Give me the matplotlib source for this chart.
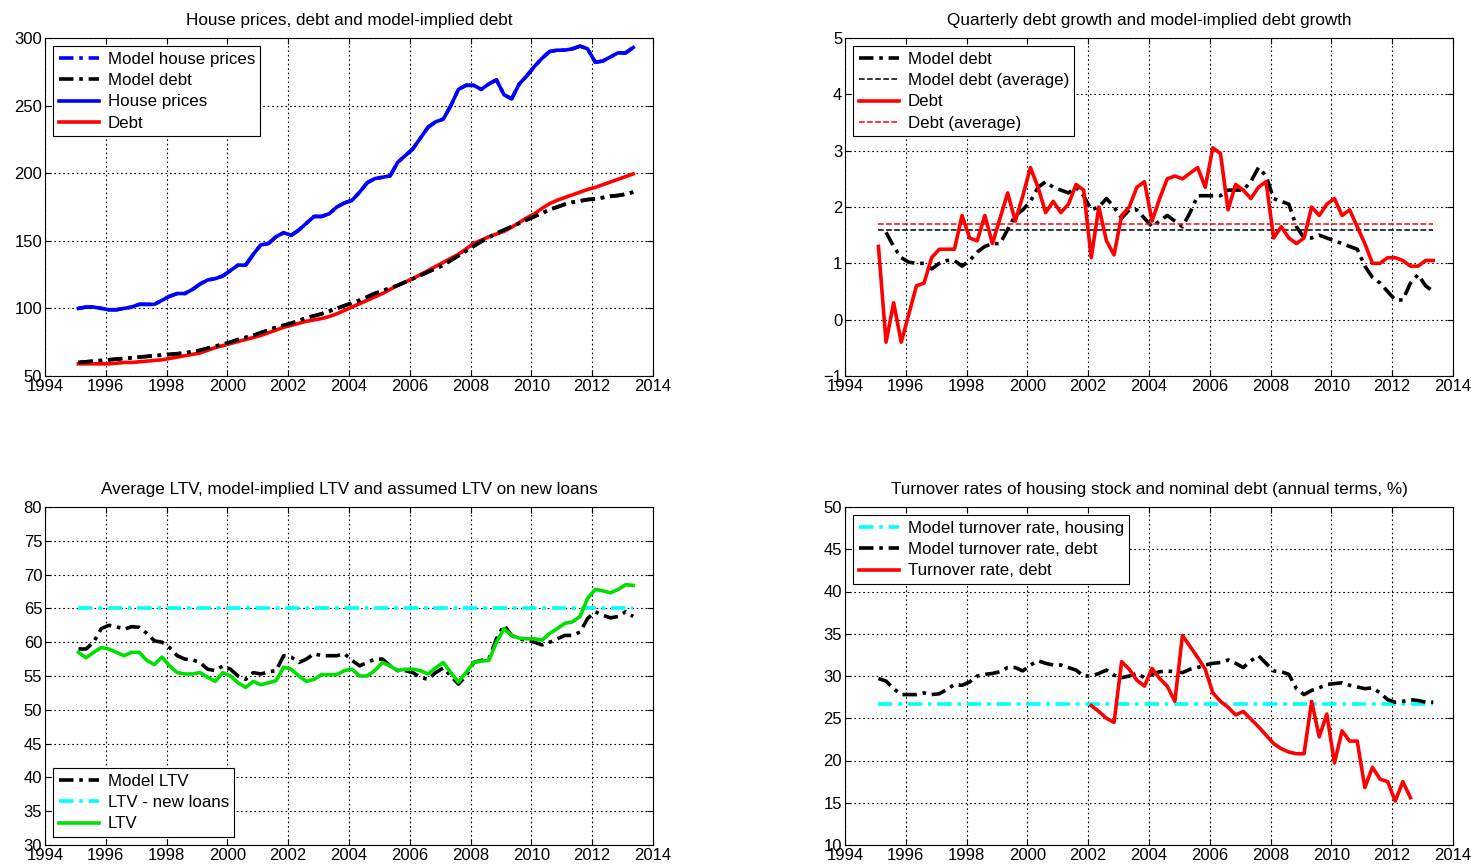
import numpy as np
import matplotlib.pyplot as plt

# quarterly sample, 1995Q1 .. 2013Q2
years = 1995.1 + 0.25 * np.arange(74)

house_prices = [100, 101, 101, 100, 99, 99, 100, 101, 103, 103, 103, 106,
                109, 111, 111, 114, 118, 121, 122, 124, 128, 132, 132, 140,
                147, 148, 153, 156, 154, 158, 163, 168, 168, 170, 175, 178,
                180, 186, 193, 196, 197, 198, 208, 213, 218, 226, 234, 238,
                240, 250, 262, 265, 265, 262, 266, 269, 258, 255, 266, 272,
                279, 285, 290, 291, 291, 292, 294, 292, 282, 283, 286, 289,
                289, 293]
model_house_prices = house_prices
debt = [59, 59, 59, 59, 59, 59.5, 60, 60, 60.5, 61, 61.5, 62,
        63, 64, 65, 66, 67, 69, 71, 72.5, 74, 75.5, 77, 78.5,
        80, 82, 84, 86, 87.5, 89, 90.5, 91.5, 92.5, 94, 96, 98.5,
        101, 103.5, 106, 108.5, 111, 114, 117, 119.5, 122, 125, 128, 131,
        134, 137, 140, 144, 148, 150.5, 153, 155, 157, 160, 163.5, 167,
        170, 174, 177.5, 180, 182, 184, 186, 188, 189.5, 191.5, 193.5, 195.5,
        197.5, 199.5]
model_debt = [60, 60.5, 61, 61.5, 62, 62.5, 63, 63.5, 64, 64.5, 65, 65.5,
              66, 66.5, 67, 68, 69, 70.5, 72, 73.5, 75, 77, 78.5, 80,
              82, 84, 86, 87.5, 89, 91, 93, 94.5, 96, 98, 100, 102,
              104, 106, 108.5, 111, 113, 115, 117, 119.5, 122, 124.5, 127, 129.5,
              132, 135.5, 139, 142.5, 146, 149.5, 152.5, 155.5, 158, 160.5, 163, 165.5,
              168, 170.5, 173, 175, 177, 178.5, 179.5, 180.5, 181, 182, 183, 183.5,
              184.5, 186]

debt_growth = [1.3, -0.4, 0.3, -0.4, 0.1, 0.6, 0.65, 1.1, 1.25, 1.25, 1.25, 1.85,
               1.45, 1.4, 1.85, 1.35, 1.8, 2.25, 1.75, 2.2, 2.7, 2.35, 1.9, 2.1,
               1.9, 2.05, 2.4, 2.3, 1.1, 2.0, 1.4, 1.15, 1.85, 2.0, 2.35, 2.45,
               1.75, 2.15, 2.5, 2.55, 2.5, 2.6, 2.7, 2.35, 3.05, 2.95, 1.95, 2.4,
               2.3, 2.15, 2.35, 2.45, 1.45, 1.65, 1.45, 1.35, 1.45, 2.0, 1.85, 2.05,
               2.15, 1.85, 1.95, 1.65, 1.35, 1.0, 1.0, 1.1, 1.1, 1.05, 0.95, 0.95,
               1.05, 1.05]
model_debt_growth = [np.nan, 1.55, 1.3, 1.1, 1.02, 1.0, 1.0, 0.9, 1.0, 1.05, 1.05, 0.95,
                     1.05, 1.2, 1.3, 1.35, 1.35, 1.6, 1.85, 1.95, 2.1, 2.35, 2.45, 2.35,
                     2.3, 2.25, 2.35, 2.2, 1.95, 2.0, 2.15, 2.0, 1.8, 1.95, 1.95, 1.8,
                     1.65, 1.75, 1.85, 1.75, 1.65, 1.9, 2.2, 2.2, 2.2, 2.2, 2.3, 2.3,
                     2.3, 2.45, 2.7, 2.55, 2.15, 2.1, 2.05, 1.65, 1.45, 1.45, 1.5, 1.45,
                     1.4, 1.35, 1.3, 1.25, 0.95, 0.75, 0.65, 0.5, 0.35, 0.35, 0.65, 0.8,
                     0.6, 0.5]
model_debt_growth_avg = 1.6
debt_growth_avg = 1.7

ltv = [58.5, 57.7, 58.5, 59.2, 59.0, 58.5, 58.0, 58.5, 58.5, 57.3, 56.7, 57.8,
       56.5, 55.5, 55.3, 55.3, 55.5, 54.8, 54.2, 55.5, 55.0, 54.0, 53.3, 54.2,
       53.7, 54.0, 54.3, 56.3, 56.0, 55.0, 54.2, 54.5, 55.2, 55.2, 55.2, 55.8,
       56.0, 55.0, 55.0, 55.8, 57.0, 56.5, 55.8, 56.0, 56.0, 55.8, 55.3, 56.2,
       57.0, 55.5, 54.1, 55.5, 57.0, 57.2, 57.3, 60.0, 62.0, 61.0, 60.6, 60.5,
       60.5, 60.3, 61.3, 62.0, 62.8, 63.0, 63.8, 66.5, 67.8, 67.6, 67.3, 67.8,
       68.5, 68.4]
model_ltv = [59.0, 59.0, 60.0, 62.0, 62.5, 62.3, 61.9, 62.3, 62.2, 61.3, 60.2, 60.0,
             59.2, 58.0, 57.5, 57.4, 57.0, 56.0, 55.8, 56.5, 56.0, 55.0, 54.5, 55.5,
             55.3, 55.6, 55.8, 58.0, 57.8, 57.0, 57.5, 58.3, 58.0, 58.0, 58.0, 58.3,
             57.3, 56.5, 57.0, 57.5, 57.5, 56.5, 55.8, 55.8, 55.5, 54.8, 54.5, 55.5,
             56.2, 55.0, 53.8, 55.0, 57.0, 57.3, 57.5, 60.5, 62.5, 61.0, 60.5, 60.3,
             60.0, 59.6, 60.0, 60.5, 61.0, 61.0, 61.5, 63.5, 64.5, 64.0, 63.6, 63.8,
             64.5, 63.8]
ltv_new_loans = 65

turnover_housing = 26.7
model_turnover_debt = [29.7, 29.4, 28.5, 27.8, 27.8, 27.8, 28.0, 27.8, 27.9, 28.4, 29.0, 28.9,
                       29.3, 30.0, 30.2, 30.3, 30.5, 31.0, 31.0, 30.6, 31.3, 31.8, 31.5, 31.3,
                       31.3, 31.0, 30.7, 30.0, 30.0, 30.3, 30.7, 30.1, 29.8, 30.0, 30.3, 29.8,
                       30.2, 30.5, 30.6, 30.5, 30.4, 30.8, 31.0, 31.3, 31.5, 31.6, 31.9, 31.5,
                       31.0, 31.8, 32.4, 31.5, 30.6, 30.5, 30.2, 28.5, 27.8, 28.3, 28.6, 29.0,
                       29.1, 29.2, 28.9, 28.7, 28.5, 28.6, 28.0, 27.2, 26.9, 27.0, 27.2, 27.1,
                       26.9, 26.9]
turnover_debt = [np.nan] * 28 + [26.5, 25.8, 25.0, 24.5, 31.7, 30.8, 29.5, 28.8,
                                 30.9, 29.7, 28.8, 27.0, 34.8, 33.5, 32.2, 30.8,
                                 28.0, 27.0, 26.3, 25.4, 25.8, 24.9, 24.0, 23.0,
                                 22.0, 21.4, 21.0, 20.8, 20.8, 27.0, 22.8, 25.5,
                                 19.7, 23.5, 22.3, 22.3, 16.8, 19.2, 17.8, 17.5,
                                 15.2, 17.5, 15.6] + [np.nan] * 3

plt.rcParams['font.family'] = ['Liberation Sans', 'DejaVu Sans']
plt.rcParams['font.size'] = 12

DD = (4, 1.6, 1, 1.6)  # matlab style dash-dot
LW = 2.6

fig = plt.figure(figsize=(14.71, 8.66), dpi=100)
W, H = 608 / 1471, 338 / 866
ax1 = fig.add_axes([45 / 1471, 1 - 376 / 866, W, H])
ax2 = fig.add_axes([845 / 1471, 1 - 376 / 866, W, H])
ax3 = fig.add_axes([45 / 1471, 1 - 845 / 866, W, H])
ax4 = fig.add_axes([845 / 1471, 1 - 845 / 866, W, H])


def style(ax, title, ylim, step):
    ax.set_xlim(1994, 2014)
    ax.set_ylim(*ylim)
    ax.set_xticks(np.arange(1994, 2015, 2))
    ax.set_yticks(np.arange(ylim[0], ylim[1] + 0.1, step))
    ax.grid(True, color='black', linestyle=(0, (1.5, 2.5)), linewidth=0.8)
    ax.tick_params(direction='in', top=True, right=True, length=4, pad=2)
    for s in ax.spines.values():
        s.set_linewidth(0.8)
    ax.set_title(title, fontsize=12.3, pad=9)


def legend(ax, loc):
    lg = ax.legend(loc=loc, fancybox=False, framealpha=1, edgecolor='black',
                   handlelength=2.4, handletextpad=0.5, borderpad=0.3,
                   labelspacing=0.38, borderaxespad=0.5, fontsize=12.2)
    lg.get_frame().set_linewidth(0.8)


# panel 1
ax1.plot(years, model_house_prices, color='blue', lw=LW, dashes=DD, label='Model house prices')
ax1.plot(years, model_debt, color='black', lw=LW, dashes=DD, label='Model debt')
ax1.plot(years, house_prices, color='blue', lw=LW, label='House prices')
ax1.plot(years, debt, color='red', lw=LW, label='Debt')
ax1.plot(years, model_debt, color='black', lw=LW, dashes=DD)
style(ax1, 'House prices, debt and model-implied debt', (50, 300), 50)
legend(ax1, 'upper left')

# panel 2
ax2.plot(years, model_debt_growth, color='black', lw=LW, dashes=DD, label='Model debt')
ax2.plot(years, [model_debt_growth_avg] * len(years), color='black', lw=1.1, ls='--',
         label='Model debt (average)')
ax2.plot(years, debt_growth, color='red', lw=LW, label='Debt')
ax2.plot(years, [debt_growth_avg] * len(years), color='red', lw=1.1, ls='--',
         label='Debt (average)')
style(ax2, 'Quarterly debt growth and model-implied debt growth', (-1, 5), 1)
legend(ax2, 'upper left')

# panel 3
ax3.plot(years, model_ltv, color='black', lw=LW, dashes=DD, label='Model LTV')
ax3.plot(years, [ltv_new_loans] * len(years), color='cyan', lw=LW, dashes=DD,
         label='LTV - new loans')
ax3.plot(years, ltv, color='#00e000', lw=LW, label='LTV')
style(ax3, 'Average LTV, model-implied LTV and assumed LTV on new loans', (30, 80), 5)
legend(ax3, 'lower left')

# panel 4
ax4.plot(years, [turnover_housing] * len(years), color='cyan', lw=LW, dashes=DD,
         label='Model turnover rate, housing')
ax4.plot(years, model_turnover_debt, color='black', lw=LW, dashes=DD,
         label='Model turnover rate, debt')
ax4.plot(years, turnover_debt, color='red', lw=LW, label='Turnover rate, debt')
style(ax4, 'Turnover rates of housing stock and nominal debt (annual terms, %)', (10, 50), 5)
legend(ax4, 'upper left')

fig.savefig('out.png', dpi=100)
